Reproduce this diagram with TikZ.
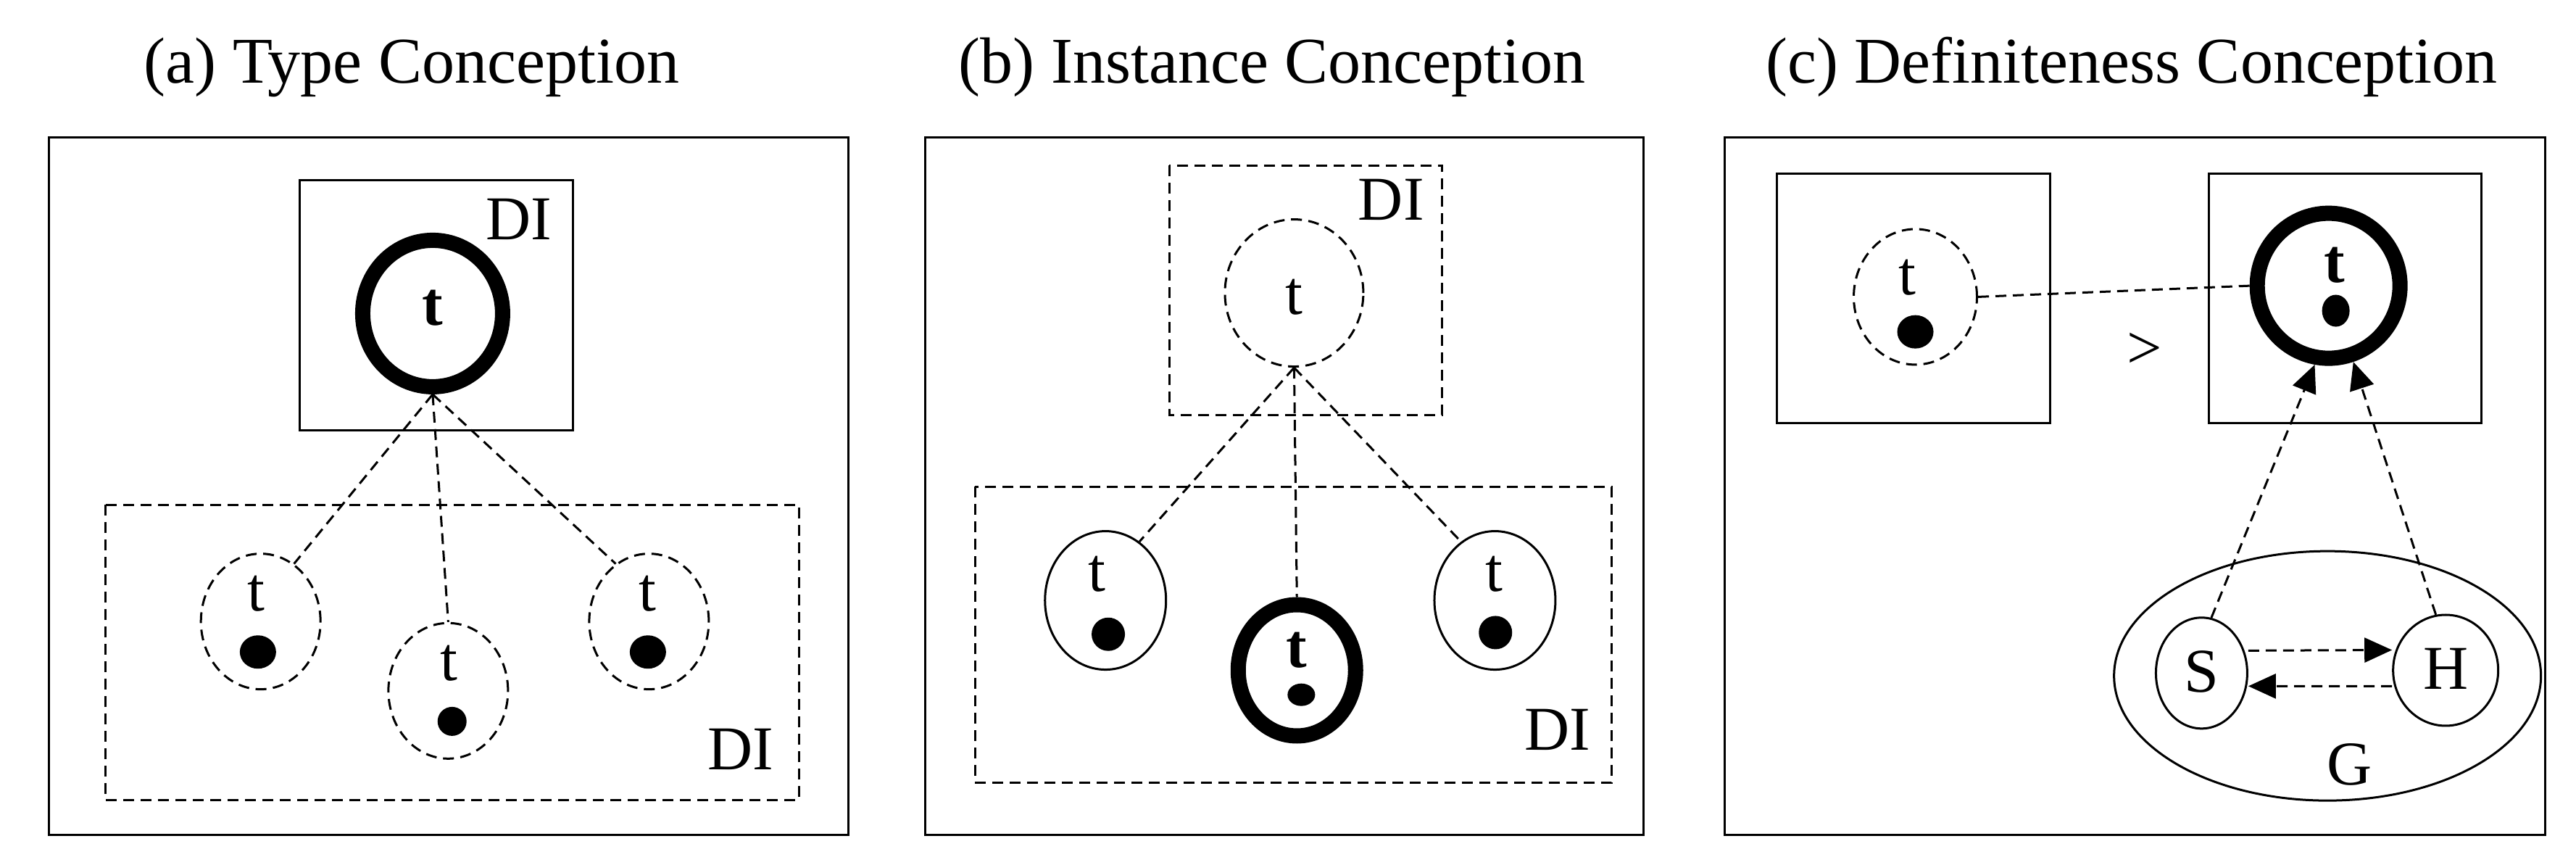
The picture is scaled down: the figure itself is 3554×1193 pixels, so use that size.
\documentclass[tikz,border=0pt]{standalone}
\usepackage{fontspec}
\setmainfont{Liberation Serif}
\usetikzlibrary{shapes.geometric,arrows.meta}
\begin{document}
\begin{tikzpicture}[x=1pt,y=-1pt,
  every path/.style={line width=3pt},
  dsh/.style={dash pattern=on 15pt off 9pt},
  el/.style={ellipse,draw,inner sep=0pt,line width=3pt},
  thick el/.style={ellipse,draw,inner sep=0pt,line width=21pt},
  dot/.style={ellipse,fill=black,inner sep=0pt},
  lab/.style={font=\fontsize{86}{90}\selectfont,inner sep=0pt},
  ttl/.style={font=\fontsize{90}{96}\selectfont,inner sep=0pt,anchor=base},
  box/.style={draw,inner sep=0pt,line width=3pt},
  arr/.style={dsh,-{Triangle[length=38pt,width=34pt]}}]
\useasboundingbox[fill=white] (0,0) rectangle (3554,1193);
% ---------- (a)
\node[ttl] (ta) at (568,115) {(a) Type Conception};
\begin{scope}[x=0.7653pt,y=-0.7653pt]
\draw (88,248) rectangle (1530,1505);
\draw (540,325) rectangle (1033,775);
\draw[dsh] (190,910) rectangle (1440,1442);
\node[thick el,minimum width=193pt,minimum height=202pt] (aT) at (780,565) {};
\node[lab] (aTt) at (780,555) {\bfseries t};
\node[lab] (aDI1) at (935,395) {DI};
\node[lab] (aDI2) at (1335,1350) {DI};
\node[el,dsh,minimum width=165pt,minimum height=187pt] (aL) at (470,1120) {};
\node[el,dsh,minimum width=165pt,minimum height=187pt] (aM) at (808,1245) {};
\node[el,dsh,minimum width=165pt,minimum height=187pt] (aR) at (1170,1120) {};
\node[lab] (aLt) at (462,1070) {t};
\node[lab] (aMt) at (810,1195) {t};
\node[lab] (aRt) at (1168,1070) {t};
\node[dot,minimum width=50pt,minimum height=46pt] (aLd) at (465,1175) {};
\node[dot,minimum width=40pt,minimum height=40pt] (aMd) at (815,1300) {};
\node[dot,minimum width=50pt,minimum height=46pt] (aRd) at (1168,1175) {};
\draw[dsh] (aT.south) -- (aL.60);
\draw[dsh] (aT.south) -- (aM.north);
\draw[dsh] (aT.south) -- (aR.120);
\end{scope}
% ---------- (b)
\node[ttl] (tb) at (1755,115) {(b) Instance Conception};
\begin{scope}[shift={(1177,0)},x=0.7653pt,y=-0.7653pt]
\draw (130,248) rectangle (1425,1505);
\draw[dsh] (570,298) rectangle (1062,748);
\draw[dsh] (220,877) rectangle (1368,1410);
\node[el,dsh,minimum width=191pt,minimum height=203pt] (bT) at (795,528) {};
\node[lab] (bTt) at (795,535) {t};
\node[lab] (bDI1) at (970,360) {DI};
\node[lab] (bDI2) at (1270,1315) {DI};
\node[el,minimum width=167pt,minimum height=191pt] (bL) at (455,1082) {};
\node[thick el,minimum width=162pt,minimum height=181pt] (bM) at (800,1208) {};
\node[el,minimum width=167pt,minimum height=191pt] (bR) at (1157,1082) {};
\node[lab] (bLt) at (440,1035) {t};
\node[lab] (bMt) at (800,1172) {\bfseries t};
\node[lab] (bRt) at (1155,1035) {t};
\node[dot,minimum width=46pt,minimum height=46pt] (bLd) at (460,1143) {};
\node[dot,minimum width=38pt,minimum height=31pt] (bMd) at (808,1252) {};
\node[dot,minimum width=46pt,minimum height=46pt] (bRd) at (1158,1140) {};
\draw[dsh] (bT.south) -- (bL.60);
\draw[dsh] (bT.south) -- (bM.north);
\draw[dsh] (bT.south) -- (bR.120);
\end{scope}
% ---------- (c)
\node[ttl] (tc) at (2941,115) {(c) Definiteness Conception};
\begin{scope}[shift={(2354,0)},x=0.7653pt,y=-0.7653pt]
\draw (33,248) rectangle (1512,1505);
\draw (128,313) rectangle (620,762);
\draw (906,313) rectangle (1397,762);
\node[el,dsh,minimum width=170pt,minimum height=187pt] (cL) at (377,535) {};
\node[lab] (cLt) at (362,500) {t};
\node[dot,minimum width=50pt,minimum height=46pt] (cLd) at (377,598) {};
\node[thick el,minimum width=197pt,minimum height=200pt] (cT) at (1122,515) {};
\node[lab] (cTt) at (1133,478) {\bfseries t};
\node[dot,minimum width=38pt,minimum height=44pt] (cTd) at (1135,560) {};
\node[lab] (gt) at (790,632) {>};
\draw[dsh] (cL.east) -- (cT.west);
\node[el,minimum width=589pt,minimum height=344pt] (G) at (1120,1218) {};
\node[lab] (Gl) at (1160,1378) {G};
\node[el,minimum width=126pt,minimum height=153pt] (S) at (893,1213) {};
\node[el,minimum width=145pt,minimum height=153pt] (H) at (1333,1208) {};
\node[lab] (Sl) at (893,1210) {S};
\node[lab] (Hl) at (1333,1205) {H};
\draw[arr] ([yshift=31pt]S.east) -- ([yshift=28pt]H.west);
\draw[arr] ([yshift=-22pt]H.west) -- ([yshift=-18pt]S.east);
\draw[arr] (S.80) -- (cT.-100);
\draw[arr] (H.100) -- (cT.-72);
\end{scope}
\end{tikzpicture}
\end{document}
